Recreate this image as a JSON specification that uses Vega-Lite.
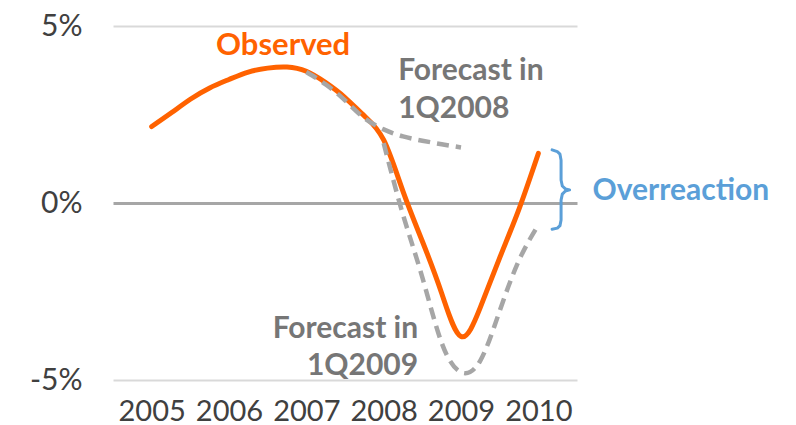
{
  "$schema": "https://vega.github.io/schema/vega-lite/v6.json",
  "width": 464,
  "height": 354,
  "autosize": {"type": "none"},
  "padding": {"left": 113, "top": 26, "right": 219, "bottom": 45},
  "background": "white",
  "config": {"view": {"stroke": null}, "font": "Lato"},
  "datasets": {
    "observed": [
      {"year": 2005.00, "value": 2.16},
      {"year": 2005.25, "value": 2.54},
      {"year": 2005.50, "value": 2.93},
      {"year": 2005.75, "value": 3.25},
      {"year": 2006.00, "value": 3.49},
      {"year": 2006.25, "value": 3.70},
      {"year": 2006.50, "value": 3.81},
      {"year": 2006.75, "value": 3.84},
      {"year": 2007.00, "value": 3.72},
      {"year": 2007.25, "value": 3.40},
      {"year": 2007.50, "value": 2.98},
      {"year": 2007.75, "value": 2.46},
      {"year": 2008.00, "value": 1.78},
      {"year": 2008.25, "value": 0.33},
      {"year": 2008.50, "value": -1.08},
      {"year": 2008.75, "value": -2.55},
      {"year": 2009.00, "value": -3.77},
      {"year": 2009.25, "value": -2.95},
      {"year": 2009.50, "value": -1.55},
      {"year": 2009.75, "value": -0.17},
      {"year": 2010.00, "value": 1.40}
    ],
    "forecasts": [
      {"series": "1Q2008", "year": 2007.00, "value": 3.70},
      {"series": "1Q2008", "year": 2007.25, "value": 3.35},
      {"series": "1Q2008", "year": 2007.50, "value": 2.90},
      {"series": "1Q2008", "year": 2007.75, "value": 2.40},
      {"series": "1Q2008", "year": 2008.00, "value": 2.08},
      {"series": "1Q2008", "year": 2008.25, "value": 1.88},
      {"series": "1Q2008", "year": 2008.50, "value": 1.76},
      {"series": "1Q2008", "year": 2008.75, "value": 1.66},
      {"series": "1Q2008", "year": 2009.00, "value": 1.57},
      {"series": "1Q2009", "year": 2008.00, "value": 1.69},
      {"series": "1Q2009", "year": 2008.25, "value": -0.33},
      {"series": "1Q2009", "year": 2008.50, "value": -2.10},
      {"series": "1Q2009", "year": 2008.75, "value": -3.95},
      {"series": "1Q2009", "year": 2009.00, "value": -4.78},
      {"series": "1Q2009", "year": 2009.25, "value": -4.45},
      {"series": "1Q2009", "year": 2009.50, "value": -3.05},
      {"series": "1Q2009", "year": 2009.75, "value": -1.62},
      {"series": "1Q2009", "year": 2010.00, "value": -0.62}
    ],
    "brace": [
      {"i": 0, "year": 2010.178, "value": 1.50},
      {"i": 1, "year": 2010.246, "value": 1.45},
      {"i": 2, "year": 2010.280, "value": 1.38},
      {"i": 3, "year": 2010.294, "value": 1.21},
      {"i": 4, "year": 2010.294, "value": 0.65},
      {"i": 5, "year": 2010.310, "value": 0.48},
      {"i": 6, "year": 2010.350, "value": 0.40},
      {"i": 7, "year": 2010.405, "value": 0.37},
      {"i": 8, "year": 2010.350, "value": 0.34},
      {"i": 9, "year": 2010.310, "value": 0.25},
      {"i": 10, "year": 2010.294, "value": 0.08},
      {"i": 11, "year": 2010.294, "value": -0.48},
      {"i": 12, "year": 2010.280, "value": -0.64},
      {"i": 13, "year": 2010.246, "value": -0.71},
      {"i": 14, "year": 2010.178, "value": -0.74}
    ]
  },
  "layer": [
    {
      "data": {"name": "observed"},
      "mark": {"type": "line", "color": "#FF6200", "strokeWidth": 5, "interpolate": "natural", "strokeCap": "round"},
      "encoding": {
        "x": {
          "field": "year", "type": "quantitative",
          "scale": {"domain": [2004.5, 2010.5], "nice": false, "zero": false},
          "axis": {
            "values": [2005, 2006, 2007, 2008, 2009, 2010], "format": "d",
            "grid": false, "ticks": false, "domain": false, "title": null,
            "labelFontSize": 29, "labelColor": "#404040", "labelPadding": 17, "labelFlush": false
          }
        },
        "y": {
          "field": "value", "type": "quantitative",
          "scale": {"domain": [-5, 5], "nice": false},
          "axis": {
            "values": [-5, 0, 5], "labelExpr": "datum.value + '%'",
            "grid": true,
            "gridColor": {"condition": {"test": "datum.value === 0", "value": "#A6A6A6"}, "value": "#D9D9D9"},
            "gridWidth": {"condition": {"test": "datum.value === 0", "value": 3}, "value": 2},
            "ticks": false, "domain": false, "title": null,
            "labelFontSize": 30, "labelColor": "#404040", "labelPadding": 31
          }
        }
      }
    },
    {
      "data": {"name": "forecasts"},
      "mark": {"type": "line", "color": "#A6A6A6", "strokeWidth": 4.5, "interpolate": "natural", "strokeDash": [12, 7]},
      "encoding": {
        "x": {"field": "year", "type": "quantitative"},
        "y": {"field": "value", "type": "quantitative"},
        "detail": {"field": "series"}
      }
    },
    {
      "data": {"name": "brace"},
      "mark": {"type": "line", "color": "#5B9FD8", "strokeWidth": 3, "strokeCap": "round", "strokeJoin": "round", "interpolate": "linear"},
      "encoding": {
        "x": {"field": "year", "type": "quantitative"},
        "y": {"field": "value", "type": "quantitative"},
        "order": {"field": "i", "type": "quantitative"}
      }
    },
    {
      "data": {"values": [{"year": 2006.70, "value": 4.18, "label": "Observed"}]},
      "mark": {"type": "text", "color": "#FF6200", "fontSize": 31, "fontWeight": "bold", "align": "center", "baseline": "alphabetic"},
      "encoding": {
        "x": {"field": "year", "type": "quantitative"},
        "y": {"field": "value", "type": "quantitative"},
        "text": {"field": "label"}
      }
    },
    {
      "data": {"values": [
        {"year": 2008.187, "value": 3.47, "label": "Forecast in"},
        {"year": 2008.187, "value": 2.40, "label": "1Q2008"}
      ]},
      "mark": {"type": "text", "color": "#767676", "fontSize": 30, "fontWeight": "bold", "align": "left", "baseline": "alphabetic"},
      "encoding": {
        "x": {"field": "year", "type": "quantitative"},
        "y": {"field": "value", "type": "quantitative"},
        "text": {"field": "label"}
      }
    },
    {
      "data": {"values": [
        {"year": 2008.446, "value": -3.81, "label": "Forecast in"},
        {"year": 2008.446, "value": -4.86, "label": "1Q2009"}
      ]},
      "mark": {"type": "text", "color": "#767676", "fontSize": 30, "fontWeight": "bold", "align": "right", "baseline": "alphabetic"},
      "encoding": {
        "x": {"field": "year", "type": "quantitative"},
        "y": {"field": "value", "type": "quantitative"},
        "text": {"field": "label"}
      }
    },
    {
      "data": {"values": [{"year": 2010.70, "value": 0.085, "label": "Overreaction"}]},
      "mark": {"type": "text", "color": "#5B9FD8", "fontSize": 30, "fontWeight": "bold", "align": "left", "baseline": "alphabetic"},
      "encoding": {
        "x": {"field": "year", "type": "quantitative"},
        "y": {"field": "value", "type": "quantitative"},
        "text": {"field": "label"}
      }
    }
  ]
}
